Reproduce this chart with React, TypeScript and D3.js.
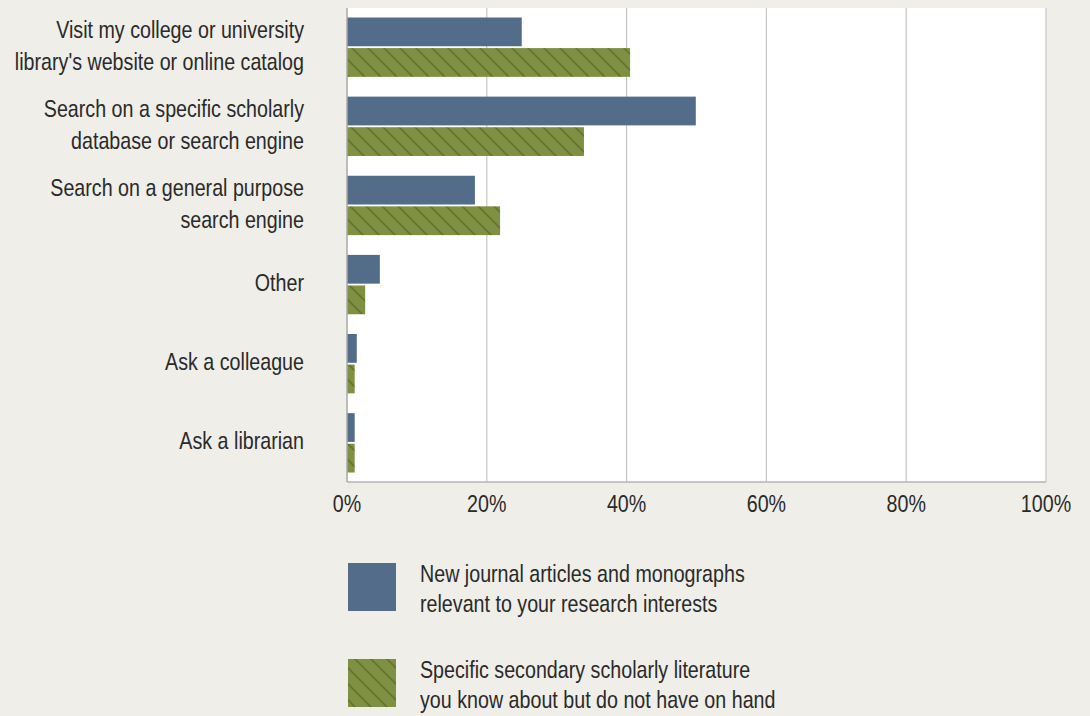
import React from 'react';
import * as d3 from 'd3';

const categories: string[][] = [
  ['Visit my college or university', "library's website or online catalog"],
  ['Search on a specific scholarly', 'database or search engine'],
  ['Search on a general purpose', 'search engine'],
  ['Other'],
  ['Ask a colleague'],
  ['Ask a librarian'],
];
const newArticles = [25.0, 49.9, 18.3, 4.7, 1.4, 1.1];
const secondaryLit = [40.5, 33.9, 21.9, 2.6, 1.1, 1.1];
const ticks = [0, 20, 40, 60, 80, 100];
const legendLabels = [
  ['New journal articles and monographs', 'relevant to your research interests'],
  ['Specific secondary scholarly literature', 'you know about but do not have on hand'],
];

const W = 1090;
const H = 716;
const BG = '#efeee8';
const BLUE = '#526c8a';
const GREEN = '#7f9042';
const HATCH = '#62742e';
const TEXT = '#2a2a2a';
const FONT = '"Liberation Sans", Arial, sans-serif';
const SQUEEZE = 0.82; // condensed look

// condensed text: a normal sans squeezed horizontally
function CText({
  x, y, lines, anchor = 'start', lh = 32,
}: { x: number; y: number; lines: string[]; anchor?: string; lh?: number }) {
  return (
    <text
      transform={`translate(${x},${y}) scale(${SQUEEZE},1)`}
      textAnchor={anchor}
      fontSize={24}
      fill={TEXT}
    >
      {lines.map((ln, j) => (
        <tspan key={j} x={0} y={j * lh} dy="0.35em">
          {ln}
        </tspan>
      ))}
    </text>
  );
}

export default function App() {
  const left = 347;
  const right = 1046;
  const top = 8;
  const bottom = 482;

  const x = d3.scaleLinear().domain([0, 100]).range([left, right]);
  const y = d3
    .scaleBand<number>()
    .domain(d3.range(categories.length))
    .range([top, bottom])
    .paddingInner(0.25)
    .paddingOuter(0.12);
  const inner = d3.scaleBand<number>().domain([0, 1]).range([0, y.bandwidth()]).paddingInner(0.06);

  const series = [
    { values: newArticles, fill: BLUE },
    { values: secondaryLit, fill: 'url(#hatch)' },
  ];

  return (
    <div style={{ position: 'fixed', left: 0, top: 0, width: W, height: H, background: BG }}>
      <svg width={W} height={H} style={{ display: 'block', fontFamily: FONT }}>
        <defs>
          <pattern id="hatch" patternUnits="userSpaceOnUse" width={16} height={16}>
            <rect width={16} height={16} fill={GREEN} />
            <path d="M-4,-4 L20,20 M-4,12 L4,20 M12,-4 L20,4" stroke={HATCH} strokeWidth={1.6} />
          </pattern>
        </defs>
        <rect x={0} y={0} width={W} height={H} fill={BG} />
        <rect x={left} y={top} width={right - left} height={bottom - top} fill="#fff" />

        {ticks.slice(1).map((t) => (
          <line key={t} x1={x(t)} x2={x(t)} y1={top} y2={bottom} stroke="#c6c6c6" strokeWidth={1.2} />
        ))}
        <line x1={left} x2={right} y1={bottom} y2={bottom} stroke="#b5b5b5" strokeWidth={1.5} />

        {series.map((s, si) =>
          s.values.map((v, i) => (
            <rect
              key={`${si}-${i}`}
              x={x(0)}
              y={(y(i) ?? 0) + (inner(si) ?? 0)}
              width={x(v) - x(0)}
              height={inner.bandwidth()}
              fill={s.fill}
            />
          ))
        )}
        <line x1={left} x2={left} y1={top} y2={bottom} stroke="#a8a8a8" strokeWidth={1.5} />

        {categories.map((lines, i) => {
          const cy = (y(i) ?? 0) + y.bandwidth() / 2 - 2;
          const lh = 32;
          return (
            <CText key={i} x={304} y={cy - ((lines.length - 1) * lh) / 2} lines={lines} anchor="end" lh={lh} />
          );
        })}

        {ticks.map((t) => (
          <CText key={t} x={x(t)} y={504} lines={[`${t}%`]} anchor="middle" />
        ))}

        {legendLabels.map((lines, i) => {
          const ly = 563 + i * 96;
          return (
            <g key={i}>
              <rect x={348} y={ly} width={48} height={48} fill={i === 0 ? BLUE : 'url(#hatch)'} />
              <CText x={420} y={ly + 11} lines={lines} lh={30} />
            </g>
          );
        })}
      </svg>
    </div>
  );
}
